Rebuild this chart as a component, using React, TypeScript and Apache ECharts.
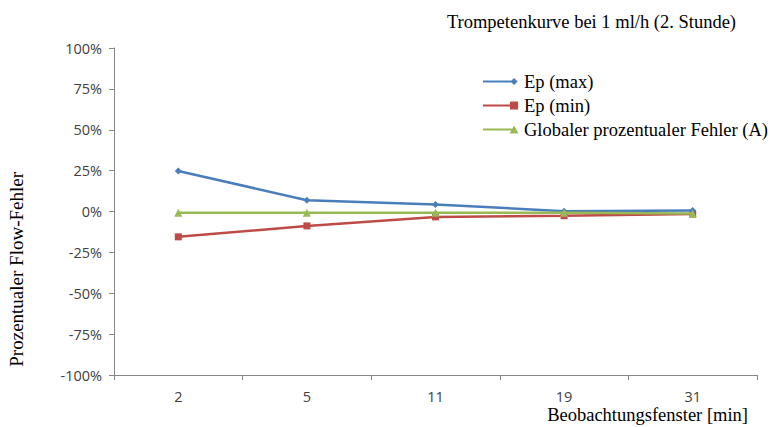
import React, { useEffect, useRef } from "react";
import * as echarts from "echarts";

const categories = ["2", "5", "11", "19", "31"];
const epMax = [0.248, 0.069, 0.043, 0.002, 0.006];
const epMin = [-0.155, -0.088, -0.033, -0.026, -0.016];
const globalErr = [-0.008, -0.008, -0.008, -0.008, -0.012];
const seriesNames = ["Ep (max)", "Ep (min)", "Globaler prozentualer Fehler (A)"];

const serif = "'Liberation Serif', 'DejaVu Serif', serif";
const sans = "'Open Sans', 'Liberation Sans', sans-serif";

// legend icons: line with marker at right end (viewbox 40 x 12, corner anchors keep the box)
const anchors = "M0,0 L0.01,0 L0,0.01 Z M40,12 L39.99,12 L40,11.99 Z ";
const iconMax = "path://" + anchors + "M0,4.8 L33,4.8 L33,7.2 L0,7.2 Z M30.5,6 L34.5,2 L38.5,6 L34.5,10 Z";
const iconMin = "path://" + anchors + "M0,4.8 L31,4.8 L31,7.2 L0,7.2 Z M30,1.5 L39,1.5 L39,10.5 L30,10.5 Z";
const iconGlob = "path://" + anchors + "M0,4.8 L32,4.8 L32,7.2 L0,7.2 Z M34.5,1.5 L39.5,10.5 L29.5,10.5 Z";

export default function App() {
  const ref = useRef<HTMLDivElement>(null);
  useEffect(() => {
    if (!ref.current) return;
    const chart = echarts.init(ref.current, undefined, { renderer: "svg" });
    chart.setOption({
      animation: false,
      backgroundColor: "#ffffff",
      title: {
        text: "Trompetenkurve bei 1 ml/h (2. Stunde)",
        right: 31,
        top: 7,
        textStyle: { fontFamily: serif, fontSize: 18.5, fontWeight: "normal", color: "#000" },
      },
      legend: {
        orient: "vertical",
        left: 483,
        top: 72,
        padding: 0,
        itemWidth: 36,
        itemHeight: 11,
        itemGap: 5,
        textStyle: { fontFamily: serif, fontSize: 18.5, color: "#000" },
        data: [
          { name: seriesNames[0], icon: iconMax },
          { name: seriesNames[1], icon: iconMin },
          { name: seriesNames[2], icon: iconGlob },
        ],
      },
      grid: { left: 114, right: 15, top: 48, bottom: 52 },
      xAxis: {
        type: "category",
        data: categories,
        boundaryGap: true,
        axisLine: { onZero: false, lineStyle: { color: "#868686" } },
        axisTick: { show: true, length: 5, lineStyle: { color: "#868686" } },
        axisLabel: { fontFamily: sans, fontSize: 14.5, color: "#404040", margin: 14 },
        splitLine: { show: false },
      },
      yAxis: {
        type: "value",
        min: -1,
        max: 1,
        interval: 0.25,
        axisLine: { show: true, lineStyle: { color: "#868686" } },
        axisTick: { show: true, length: 5, lineStyle: { color: "#868686" } },
        axisLabel: {
          fontFamily: sans,
          fontSize: 14.5,
          color: "#404040",
          margin: 12,
          formatter: (v: number) => Math.round(v * 100) + "%",
        },
        splitLine: { show: false },
      },
      graphic: [
        {
          type: "text",
          left: 7,
          top: 172,
          rotation: Math.PI / 2,
          style: {
            text: "Prozentualer Flow-Fehler",
            fontFamily: serif,
            fontSize: 19,
            fill: "#000",
          },
        },
        {
          type: "text",
          right: 24,
          top: 405,
          style: {
            text: "Beobachtungsfenster [min]",
            fontFamily: serif,
            fontSize: 18.5,
            fill: "#000",
          },
        },
      ],
      series: [
        {
          name: seriesNames[0],
          type: "line",
          data: epMax,
          symbol: "diamond",
          symbolSize: 7,
          lineStyle: { color: "#4a7ebb", width: 2.5 },
          itemStyle: { color: "#4a7ebb" },
          z: 3,
        },
        {
          name: seriesNames[1],
          type: "line",
          data: epMin,
          symbol: "rect",
          symbolSize: 7,
          lineStyle: { color: "#be4b48", width: 2.5 },
          itemStyle: { color: "#be4b48" },
          z: 2,
        },
        {
          name: seriesNames[2],
          type: "line",
          data: globalErr,
          symbol: "triangle",
          symbolSize: 8,
          lineStyle: { color: "#98b954", width: 2.5 },
          itemStyle: { color: "#98b954" },
          z: 4,
        },
      ],
    });
    return () => chart.dispose();
  }, []);
  return (
    <div
      ref={ref}
      style={{ position: "absolute", left: 0, top: 0, width: 772, height: 427 }}
    />
  );
}
